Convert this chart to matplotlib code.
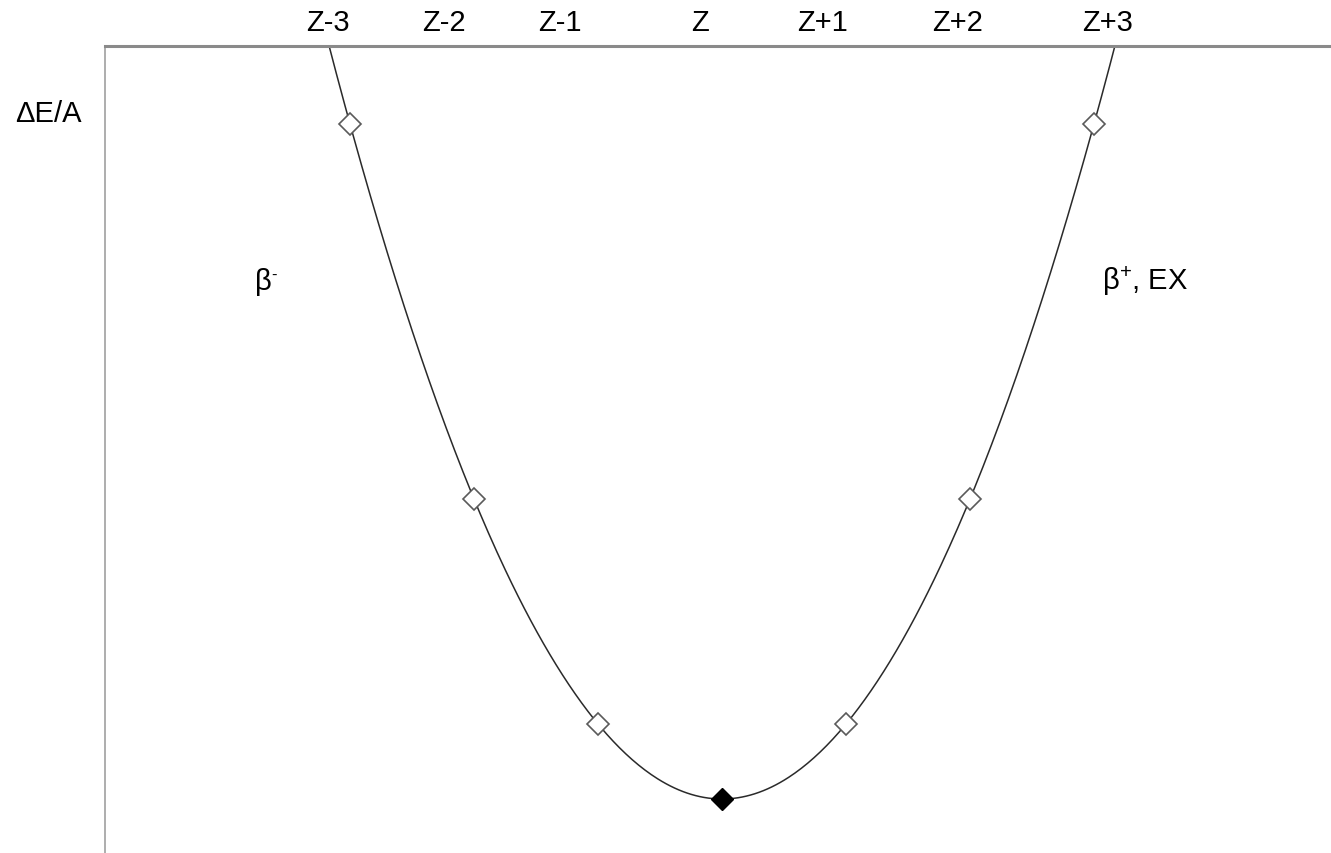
import matplotlib.pyplot as plt
import numpy as np

plt.rcParams['font.family'] = ['Liberation Sans', 'DejaVu Sans']
plt.rcParams['mathtext.fontset'] = 'custom'
plt.rcParams['mathtext.rm'] = 'Liberation Sans'

# charge offset from the stable isobar and relative mass excess
z_offset = [-3, -2, -1, 0, 1, 2, 3]
energy = [9, 4, 1, 0, 1, 4, 9]
top_labels = ['Z-3', 'Z-2', 'Z-1', 'Z', 'Z+1', 'Z+2', 'Z+3']

# where the top labels sit (they are not aligned with the points)
label_pos = [-3.18, -2.24, -1.31, -0.18, 0.81, 1.90, 3.11]

W, H = 1331, 854
fig = plt.figure(figsize=(W / 100, H / 100), dpi=100)
ax = fig.add_axes([105 / W, 0, (W - 105) / W, (H - 47) / H])

# parabola fitted through the points
coef = np.polyfit(z_offset, energy, 2)
xs = np.linspace(-3.4, 3.4, 400)
ax.plot(xs, np.polyval(coef, xs), color='#2a2a2a', lw=1.1, zorder=2)

ax.plot(z_offset[:3] + z_offset[4:], energy[:3] + energy[4:], ls='none',
        marker='D', ms=11, mfc='white', mec='#5a5a5a', mew=1.2, zorder=3)
ax.plot([z_offset[3]], [energy[3]], ls='none', marker='D', ms=11,
        mfc='black', mec='black', zorder=3)

ax.set_xlim((105 - 722) / 124, (W - 722) / 124)
ax.set_ylim(-(H - 800) / 75, 753 / 75)

for s in ['right', 'bottom']:
    ax.spines[s].set_visible(False)
ax.spines['top'].set_color('#8a8a8a')
ax.spines['top'].set_linewidth(2.2)
ax.spines['left'].set_color('#a0a0a0')
ax.spines['left'].set_linewidth(1.2)

ax.set_yticks([])
ax.xaxis.tick_top()
ax.set_xticks(label_pos)
ax.set_xticklabels(top_labels, fontsize=21)
ax.tick_params(axis='x', length=0, pad=7)

fig.text(48 / W, 1 - 114 / H, 'ΔE/A', fontsize=21, ha='center', va='center')
fig.text(255 / W, 1 - 290 / H, 'β', fontsize=21, ha='left', va='baseline')
fig.text(271 / W, 1 - 280 / H, '-', fontsize=12, ha='left', va='baseline')
fig.text(1102 / W, 1 - 290 / H, r'β$^{+}$, EX', fontsize=21, ha='left', va='baseline')

fig.savefig('out.png', dpi=100)
